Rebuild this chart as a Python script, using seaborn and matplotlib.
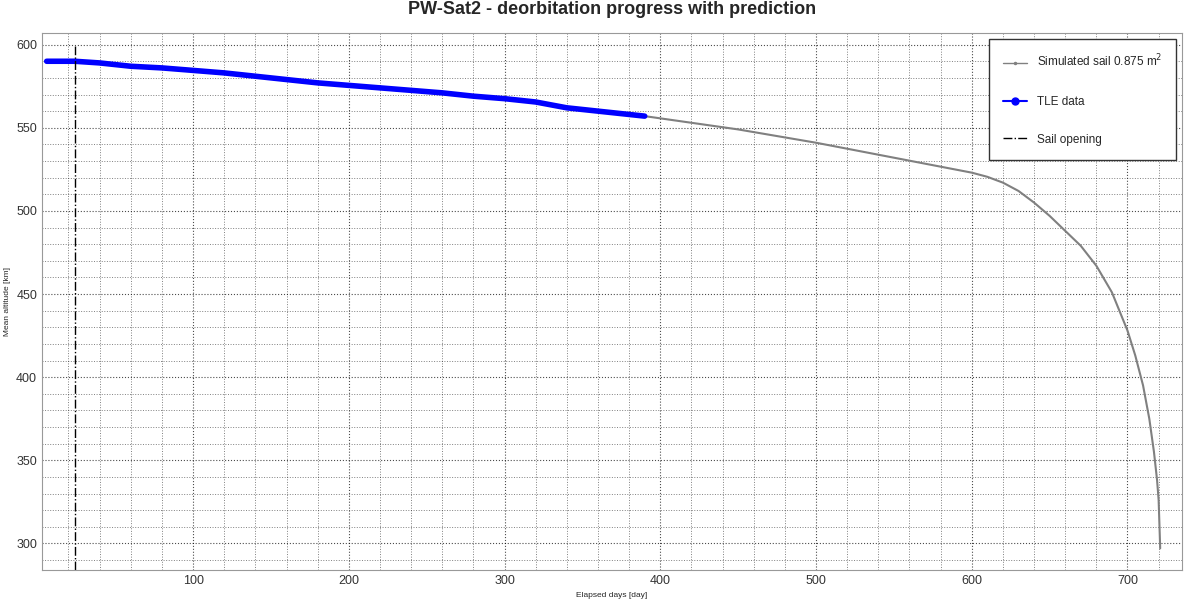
import matplotlib
matplotlib.use("Agg")
import matplotlib.pyplot as plt
import seaborn as sns
from matplotlib.ticker import MultipleLocator
from matplotlib.lines import Line2D

# TLE observations (days, km)
tle_days = [6, 15, 24, 40, 60, 80, 100, 120, 140, 160, 180, 200, 220, 240, 260, 280, 300, 320, 340, 360, 380, 390]
tle_alt = [590, 590, 590, 589, 587, 586, 584.5, 583, 581, 579, 577, 575.5, 574, 572.5, 571, 569, 567.5, 565.5, 562, 560, 558, 557]

# Simulated sail prediction
sim_days = [390, 420, 450, 500, 550, 600, 610, 620, 630, 640, 650, 660, 670, 680, 690,
            700, 705, 710, 714, 717, 719, 720, 721]
sim_alt = [557, 553, 549, 541, 532, 523, 520.5, 517, 512, 505, 497, 488, 479, 467, 451,
           428, 413, 395, 375, 355, 338, 326, 297]

sail_day = 24

sns.set_style("white")
plt.rcParams['font.family'] = ['Liberation Sans', 'DejaVu Sans']

fig, ax = plt.subplots(figsize=(12, 6), dpi=100)

sns.lineplot(x=sim_days, y=sim_alt, ax=ax, color='gray', linewidth=1.5, sort=False)
sns.lineplot(x=tle_days, y=tle_alt, ax=ax, color='blue', linewidth=4, sort=False)
ax.plot([sail_day, sail_day], [284, 599], color='black', linestyle='-.', linewidth=1)

ax.set_xlim(3, 735)
ax.set_ylim(284, 607)
ax.xaxis.set_major_locator(MultipleLocator(100))
ax.xaxis.set_minor_locator(MultipleLocator(20))
ax.yaxis.set_major_locator(MultipleLocator(50))
ax.yaxis.set_minor_locator(MultipleLocator(10))
ax.grid(which='major', color='black', linestyle=':', linewidth=0.8, alpha=0.7)
ax.grid(which='minor', color='black', linestyle=':', linewidth=0.7, alpha=0.5)
ax.tick_params(which='both', direction='in', labelsize=9, colors='#333333')
for s in ax.spines.values():
    s.set_color('#999999')

ax.set_xlabel('Elapsed days [day]', fontsize=6)
ax.set_ylabel('Mean altitude [km]', fontsize=6)
ax.set_title('PW-Sat2 - deorbitation progress with prediction',
             fontsize=13, fontweight='bold', pad=14)

handles = [Line2D([], [], color='gray', marker='.', markersize=3, linewidth=1),
           Line2D([], [], color='blue', marker='o', markersize=5, linewidth=1.5),
           Line2D([], [], color='black', linestyle='-.', linewidth=1)]
ax.legend(handles, ['Simulated sail 0.875 m$^2$', 'TLE data', 'Sail opening'],
          loc='upper right', fontsize=8.5, labelspacing=2.2, borderpad=1.2,
          fancybox=False, framealpha=1, edgecolor='#333333')

plt.subplots_adjust(left=0.035, right=0.985, top=0.945, bottom=0.05)
plt.savefig('out.png', dpi=100)
